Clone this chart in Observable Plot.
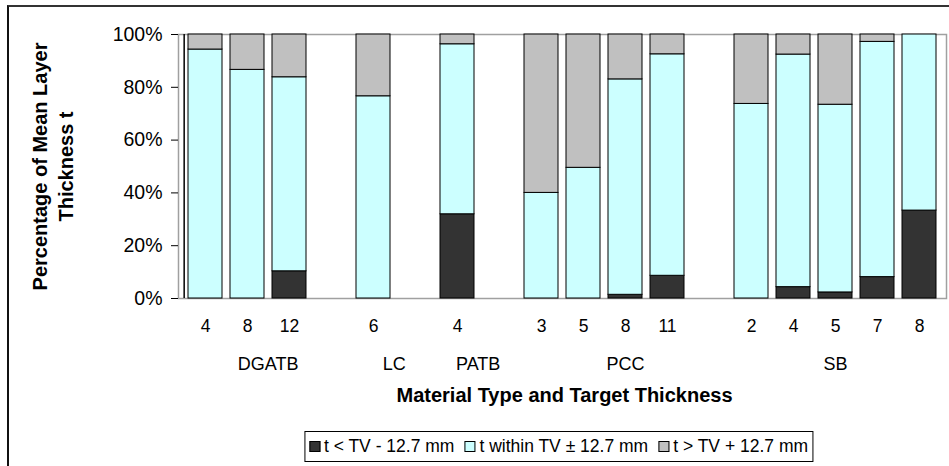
<!DOCTYPE html>
<html>
<head>
<meta charset="utf-8">
<script src="https://cdn.jsdelivr.net/npm/d3@7"></script>
<script src="https://cdn.jsdelivr.net/npm/@observablehq/plot@0.6"></script>
<style>
  html, body { margin: 0; padding: 0; background: #fff; }
  #wrap { position: relative; width: 949px; height: 466px; overflow: hidden; font-family: Arial, "Liberation Sans", sans-serif; }
  #border { position: absolute; left: 7px; top: 5px; width: 1000px; height: 500px; border-left: 2px solid #111; border-top: 2px solid #333; box-sizing: border-box; }
  #chart { position: absolute; left: 0; top: 0; }
  #legend { position: absolute; top: 431px; left: 50%; transform: translateX(-50%); margin-left: 84px; border: 1px solid #000; background: #fff;
            display: flex; align-items: center; white-space: nowrap; padding: 4px 4px; font-size: 17.5px; line-height: 21px; color: #000; }
  .item { display: flex; align-items: center; margin-right: 10px; }
  .item:last-child { margin-right: 0; }
  .sw { width: 11px; height: 11px; border: 1px solid #000; margin-right: 4px; box-sizing: border-box; }
</style>
</head>
<body>
<div id="wrap">
  <div id="border"></div>
  <div id="chart"></div>
  <div id="legend"></div>
</div>
<script>
const groups = ["DGATB","DGATB","DGATB","LC","PATB","PCC","PCC","PCC","PCC","SB","SB","SB","SB","SB"];
const thickness = [4, 8, 12, 6, 4, 3, 5, 8, 11, 2, 4, 5, 7, 8];
const below  = [0, 0, 10.3, 0, 31.9, 0, 0, 1.4, 8.6, 0, 4.3, 2.3, 8.1, 33.3];
const within = [94.3, 86.6, 73.5, 76.6, 64.4, 40.0, 49.5, 81.6, 83.9, 73.7, 88.1, 71.1, 89.1, 66.7];
const above  = [5.7, 13.4, 16.2, 23.4, 3.7, 60.0, 50.5, 17.0, 7.5, 26.3, 7.6, 26.6, 2.8, 0];
const seriesNames = ["t < TV - 12.7 mm", "t within TV ± 12.7 mm", "t > TV + 12.7 mm"];
const seriesColors = ["#333333", "#ccffff", "#c0c0c0"];
const yTicks = [0, 0.2, 0.4, 0.6, 0.8, 1];

// Build category slots (with an empty slot after each material group)
const slots = [];
const slotLabel = new Map();
const groupSlots = new Map();
groups.forEach((g, i) => {
  if (i > 0 && groups[i - 1] !== g) {
    const gap = "gap:" + groups[i - 1];
    slots.push(gap); slotLabel.set(gap, ""); groupSlots.get(groups[i - 1]).push(gap);
  }
  const id = g + ":" + thickness[i];
  slots.push(id); slotLabel.set(id, String(thickness[i]));
  if (!groupSlots.has(g)) groupSlots.set(g, []);
  groupSlots.get(g).push(id);
});

const rows = [];
groups.forEach((g, i) => {
  const id = g + ":" + thickness[i];
  [below[i], within[i], above[i]].forEach((v, s) => rows.push({slot: id, series: seriesNames[s], value: v / 100}));
});

const W = 949, H = 420, ML = 178, MR = 3, MT = 34, MB = 122;
const step = (W - ML - MR) / slots.length;

// group labels: centered over the group's slots (including trailing gap)
const groupLabels = [...groupSlots.entries()].map(([name, ss]) => {
  const mid = Math.floor(ss.length / 2);
  return {name, slot: ss[mid], dx: ss.length % 2 === 0 ? -step / 2 : 0};
});

const FF = "Arial, 'Liberation Sans', sans-serif";
const chart = Plot.plot({
  width: W, height: H,
  marginLeft: ML, marginRight: MR, marginTop: MT, marginBottom: MB,
  style: {fontFamily: FF, fontSize: "17px", color: "#000", background: "transparent"},
  x: {type: "band", domain: slots, paddingInner: 0.18, paddingOuter: 0.09, axis: null},
  y: {domain: [0, 1], axis: null},
  color: {domain: seriesNames, range: seriesColors},
  marks: [
    Plot.frame({stroke: "#a0a0a0", strokeWidth: 1.5}),
    Plot.barY(rows, Plot.stackY({x: "slot", y: "value", fill: "series", order: seriesNames, stroke: "#000", strokeWidth: 1})),
    Plot.ruleX([slots[0]], {x: d => d, y1: 0, y2: 1, dx: -step / 2, stroke: "#000", strokeWidth: 1.5}),
    Plot.axisY({ticks: yTicks, tickFormat: d => Math.round(d * 100) + "%", tickSize: 7, tickPadding: 9, fontSize: 19.5, fontFamily: FF, label: null}),
    Plot.axisX({tickFormat: s => slotLabel.get(s), tickSize: 0, tickPadding: 21, fontSize: 17.5, fontFamily: FF, label: null}),
    ...groupLabels.map(g => Plot.text([g], {x: "slot", text: "name", frameAnchor: "bottom", dy: 71, dx: g.dx, fontSize: 18, fontFamily: FF})),
    Plot.text(["Material Type and Target Thickness"], {frameAnchor: "bottom", dy: 103, dx: 2, fontSize: 20, fontWeight: "bold", fontFamily: FF}),
    Plot.text(["Percentage of Mean Layer\nThickness t"], {frameAnchor: "left", textAnchor: "middle", rotate: -90, dx: -127, fontSize: 20, fontWeight: "bold", fontFamily: FF, lineHeight: 1.3})
  ]
});
document.getElementById("chart").appendChild(chart);

const legend = document.getElementById("legend");
seriesNames.forEach((n, i) => {
  const it = document.createElement("div"); it.className = "item";
  const sw = document.createElement("div"); sw.className = "sw"; sw.style.background = seriesColors[i];
  const tx = document.createElement("span"); tx.textContent = n;
  it.appendChild(sw); it.appendChild(tx); legend.appendChild(it);
});
</script>
</body>
</html>
